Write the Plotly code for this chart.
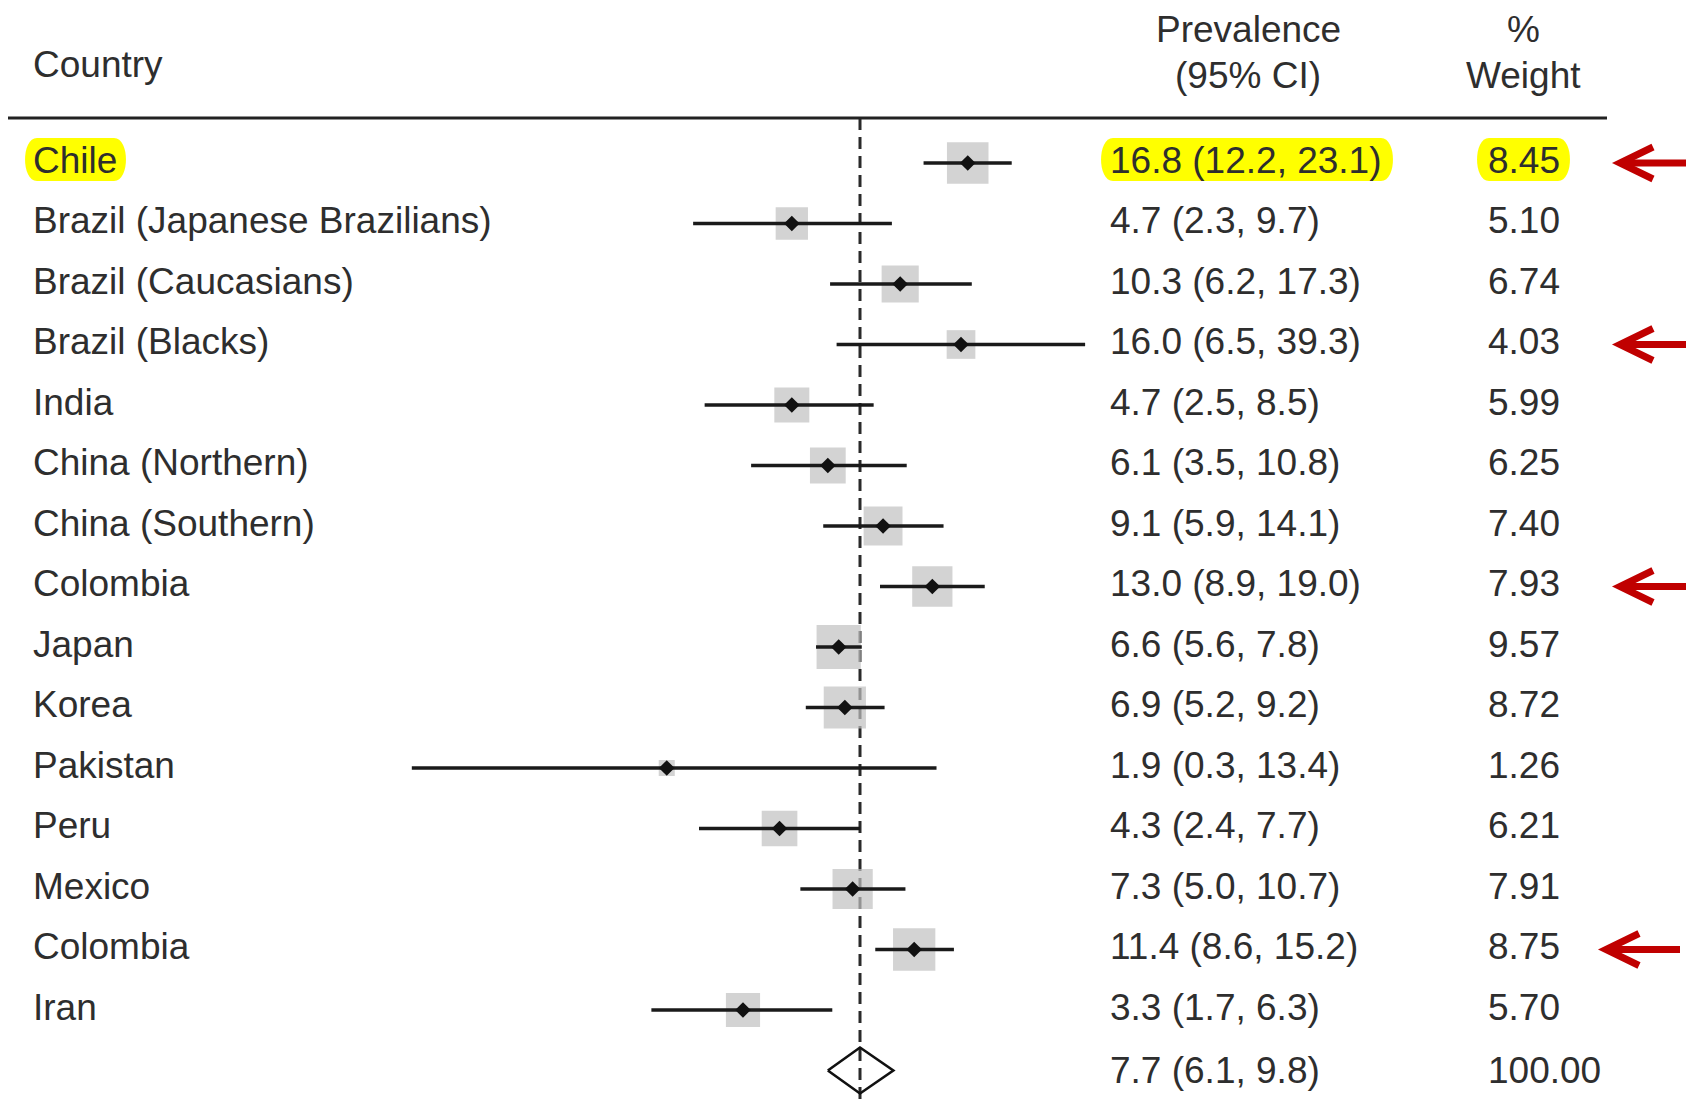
import math
import plotly.graph_objects as go

# ---------------- data ----------------
countries = ["Chile", "Brazil (Japanese Brazilians)", "Brazil (Caucasians)", "Brazil (Blacks)",
             "India", "China (Northern)", "China (Southern)", "Colombia", "Japan", "Korea",
             "Pakistan", "Peru", "Mexico", "Colombia", "Iran"]
prevalence = [16.8, 4.7, 10.3, 16.0, 4.7, 6.1, 9.1, 13.0, 6.6, 6.9, 1.9, 4.3, 7.3, 11.4, 3.3]
ci_low = [12.2, 2.3, 6.2, 6.5, 2.5, 3.5, 5.9, 8.9, 5.6, 5.2, 0.3, 2.4, 5.0, 8.6, 1.7]
ci_high = [23.1, 9.7, 17.3, 39.3, 8.5, 10.8, 14.1, 19.0, 7.8, 9.2, 13.4, 7.7, 10.7, 15.2, 6.3]
weights = [8.45, 5.10, 6.74, 4.03, 5.99, 6.25, 7.40, 7.93, 9.57, 8.72, 1.26, 6.21, 7.91, 8.75, 5.70]
overall_est = 7.7
overall_low = 6.1
overall_high = 9.8
overall_weight = 100.00
highlight_rows = [0]
arrow_rows = [0, 3, 7, 13]

# ---------------- layout helpers ----------------
OFF = 8                      # page body margin
FW, FH = 1694 - OFF, 1101 - OFF
ROW0, ROWH = 163.0, 60.5          # window pixel centre of first row, row pitch
REF_PX, PX_PER_DEC = 860.0, 318.0  # window pixel of overall estimate, pixels per decade
FONT = "Liberation Sans, Arial, Helvetica, sans-serif"
TXT = "#2e2e2e"
FS = 37

def ypx(i):
    return ROW0 + ROWH * i

def pxx(p):
    return (p - OFF) / FW

def pxy(p):
    return 1 - (p - OFF) / FH

n = len(countries)
rows = list(range(n))
yv = [-i for i in rows]
ov_row = n

x_left = math.log10(overall_est) - (REF_PX - OFF) / PX_PER_DEC
x_right = x_left + FW / PX_PER_DEC
y_top = (ROW0 - OFF) / ROWH
y_bot = -(FH - (ROW0 - OFF)) / ROWH

fig = go.Figure()

# squares (area ~ weight)
fig.add_trace(go.Scatter(
    x=prevalence, y=yv, mode="markers",
    marker=dict(symbol="square", size=[14.3 * math.sqrt(w) for w in weights],
                color="#c0c0c0", line=dict(width=0)),
    hoverinfo="skip"))

# CI lines
xs, ys = [], []
for i in rows:
    xs += [ci_low[i], ci_high[i], None]
    ys += [-i, -i, None]
fig.add_trace(go.Scatter(x=xs, y=ys, mode="lines",
                         line=dict(color="#1a1a1a", width=3.6), hoverinfo="skip"))

# point estimates
fig.add_trace(go.Scatter(x=prevalence, y=yv, mode="markers",
                         marker=dict(symbol="diamond", size=12, color="#111111"),
                         hoverinfo="skip"))

# overall diamond
dh = 23.0 / ROWH
fig.add_trace(go.Scatter(
    x=[overall_low, overall_est, overall_high, overall_est, overall_low],
    y=[-ov_row, -ov_row + dh, -ov_row, -ov_row - dh, -ov_row],
    mode="lines", line=dict(color="#111111", width=2.6), hoverinfo="skip"))

shapes = []
# dashed reference line at overall estimate
shapes.append(dict(type="line", xref="x", yref="paper", x0=overall_est, x1=overall_est,
                   y0=pxy(118), y1=0, line=dict(color="#2a2a2a", width=3, dash="12px,7px"),
                   layer="below"))
# header rule
shapes.append(dict(type="line", xref="paper", yref="paper", x0=pxx(8), x1=pxx(1607),
                   y0=pxy(118), y1=pxy(118), line=dict(color="#222222", width=3)))

# yellow highlights (pill shapes)
def pill(x0, x1, yc, hh=21.5, r=11):
    a, b = x0, x1
    t, btm = yc - hh, yc + hh
    pts = (f"M {pxx(a + r)},{pxy(t)} L {pxx(b - r)},{pxy(t)} "
           f"C {pxx(b + r * 0.45)},{pxy(t)} {pxx(b + r * 0.45)},{pxy(btm)} {pxx(b - r)},{pxy(btm)} "
           f"L {pxx(a + r)},{pxy(btm)} "
           f"C {pxx(a - r * 0.45)},{pxy(btm)} {pxx(a - r * 0.45)},{pxy(t)} {pxx(a + r)},{pxy(t)} Z")
    return dict(type="path", xref="paper", yref="paper", path=pts,
                fillcolor="#ffff00", line=dict(width=0), layer="below")

for i in highlight_rows:
    yc = ypx(i) - 3.5
    shapes.append(pill(26, 125, yc))
    shapes.append(pill(1102, 1392, yc))
    shapes.append(pill(1478, 1569, yc))

# red arrows
for k, i in enumerate(arrow_rows):
    yc = ypx(i)
    tip = 1620 if k < 3 else 1606
    end = 1700 if k < 3 else 1680
    shapes.append(dict(type="line", xref="paper", yref="paper",
                       x0=pxx(tip + 4), x1=pxx(end), y0=pxy(yc), y1=pxy(yc),
                       line=dict(color="#c00000", width=7)))
    shapes.append(dict(type="path", xref="paper", yref="paper",
                       path=f"M {pxx(tip + 33)},{pxy(yc - 16)} L {pxx(tip)},{pxy(yc)} L {pxx(tip + 33)},{pxy(yc + 16)}",
                       line=dict(color="#c00000", width=7)))

annotations = []
def txt(x, y_paper_or_row, s, anchor="left", yref="y", yshift=0):
    annotations.append(dict(x=pxx(x), xref="paper", y=y_paper_or_row, yref=yref, text=s,
                            showarrow=False, xanchor=anchor, yanchor="middle", yshift=yshift,
                            font=dict(family=FONT, size=FS, color=TXT)))

# headers
txt(31, pxy(64), "Country", yref="paper")
txt(1248, pxy(30), "Prevalence", anchor="center", yref="paper")
txt(1248, pxy(76), "(95% CI)", anchor="center", yref="paper")
txt(1523, pxy(30), "%", anchor="center", yref="paper")
txt(1523, pxy(76), "Weight", anchor="center", yref="paper")

for i in rows:
    txt(31, -i, countries[i], yshift=3)
    txt(1107.5, -i, f"{prevalence[i]:.1f} ({ci_low[i]:.1f}, {ci_high[i]:.1f})", yshift=3)
    txt(1486, -i, f"{weights[i]:.2f}", yshift=3)
txt(1107.5, -ov_row, f"{overall_est:.1f} ({overall_low:.1f}, {overall_high:.1f})", yshift=0)
txt(1486, -ov_row, f"{overall_weight:.2f}", yshift=0)

fig.update_layout(
    width=FW, height=FH, margin=dict(l=0, r=0, t=0, b=0, pad=0),
    paper_bgcolor="white", plot_bgcolor="white", showlegend=False,
    xaxis=dict(type="log", range=[x_left, x_right], visible=False, fixedrange=True),
    yaxis=dict(range=[y_bot, y_top], visible=False, fixedrange=True),
    shapes=shapes, annotations=annotations,
)

fig.write_html("out.html")
